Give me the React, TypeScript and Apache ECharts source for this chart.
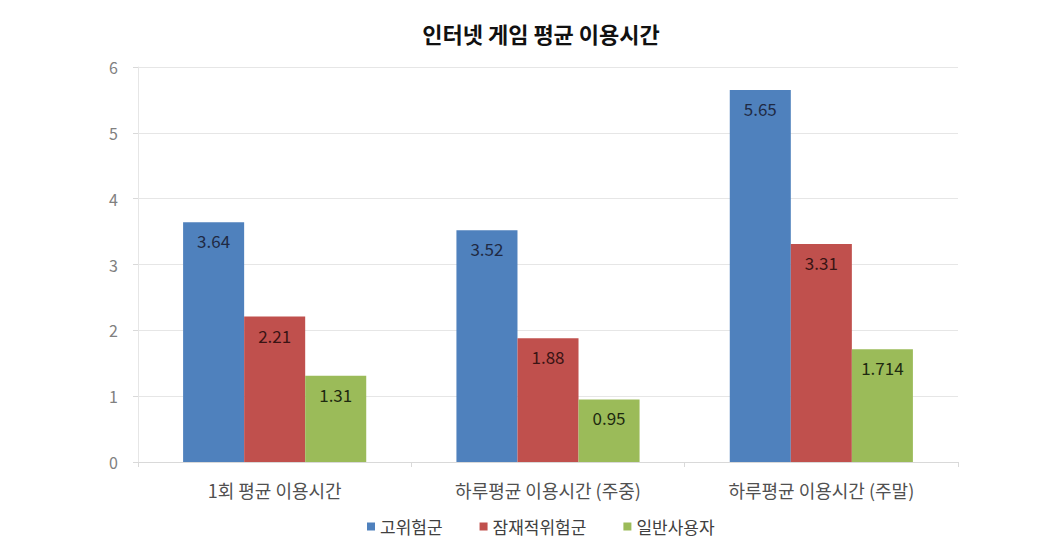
import React, { useEffect, useRef } from "react";
import * as echarts from "echarts";

const categories = ["1회 평균 이용시간", "하루평균 이용시간 (주중)", "하루평균 이용시간 (주말)"];
const seriesNames = ["고위험군", "잠재적위험군", "일반사용자"];
const highRisk = [3.64, 3.52, 5.65];
const potentialRisk = [2.21, 1.88, 3.31];
const generalUsers = [1.31, 0.95, 1.714];
const colors = ["#4F81BD", "#C0504D", "#9BBB59"];
const labelColors = ["#1F2A44", "#3A1414", "#1E2A10"];

const FONT = "'Noto Sans CJK KR', 'Noto Sans', sans-serif";

export default function App() {
  const ref = useRef<HTMLDivElement>(null);
  useEffect(() => {
    if (!ref.current) return;
    const chart = echarts.init(ref.current, null, { renderer: "svg" });
    const data = [highRisk, potentialRisk, generalUsers];
    chart.setOption({
      animation: false,
      backgroundColor: "#ffffff",
      textStyle: { fontFamily: FONT },
      title: {
        text: "인터넷 게임 평균 이용시간",
        left: 536,
        textAlign: "center",
        top: 17,
        textStyle: { fontFamily: FONT, fontSize: 22, fontWeight: "bold", color: "#111111" },
      },
      legend: {
        data: seriesNames,
        left: 362,
        top: 513,
        itemWidth: 8,
        itemHeight: 8,
        itemGap: 37,
        icon: "rect",
        textStyle: { fontFamily: FONT, fontSize: 17, color: "#404040" },
      },
      grid: { left: 138, right: 105, top: 67, bottom: 93 },
      xAxis: {
        type: "category",
        data: categories,
        axisLine: { lineStyle: { color: "#D9D9D9" } },
        axisTick: { show: true, length: 5, lineStyle: { color: "#D9D9D9" } },
        axisLabel: { fontFamily: FONT, fontSize: 18, color: "#505050", margin: 19 },
      },
      yAxis: {
        type: "value",
        min: 0,
        max: 6,
        interval: 1,
        axisLine: { show: true, lineStyle: { color: "#E6E6E6" } },
        axisTick: { show: true, length: 5, lineStyle: { color: "#D9D9D9" } },
        axisLabel: { fontFamily: FONT, fontSize: 16, color: "#808080", margin: 20 },
        splitLine: { lineStyle: { color: "#E6E6E6" } },
      },
      series: seriesNames.map((name, i) => ({
        name,
        type: "bar",
        data: data[i],
        barGap: "0%",
        barCategoryGap: "33%",
        itemStyle: { color: colors[i] },
        label: {
          show: true,
          position: "insideTop",
          distance: 10,
          fontFamily: FONT,
          fontSize: 17,
          color: labelColors[i],
          formatter: (p: any) => String(p.value),
        },
      })),
    });
    return () => chart.dispose();
  }, []);
  return (
    <div
      ref={ref}
      style={{ position: "fixed", left: 0, top: 0, width: 1063, height: 555 }}
    />
  );
}
